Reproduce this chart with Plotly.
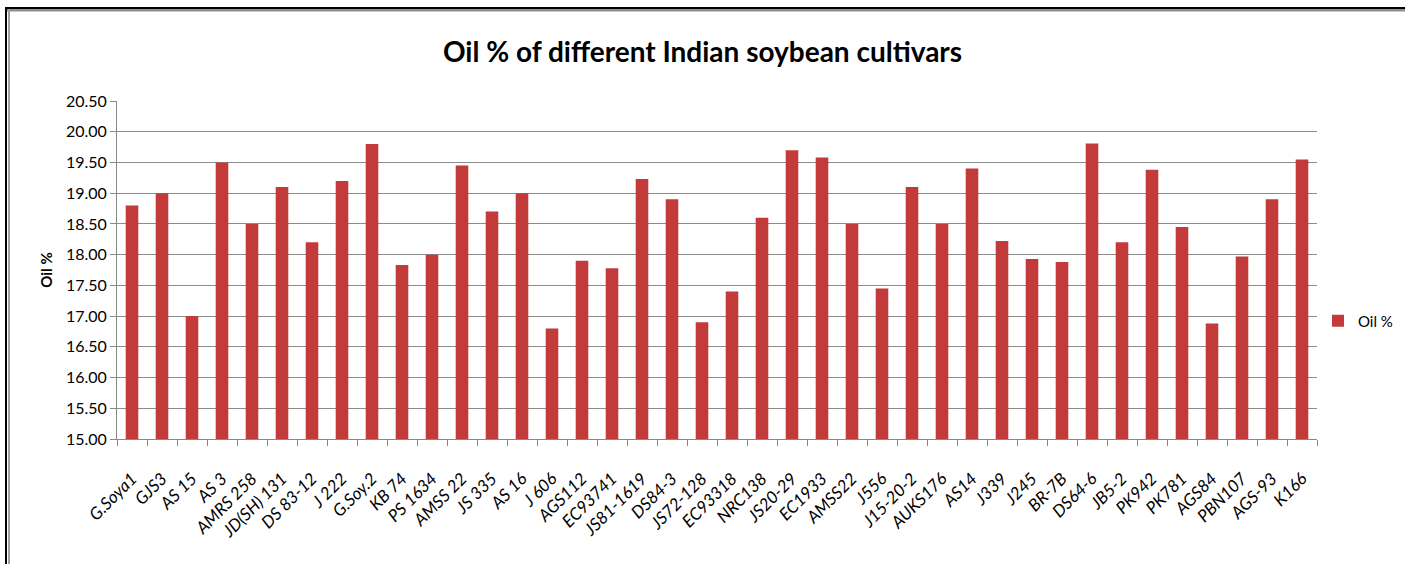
import plotly.graph_objects as go

cultivars = ["G.Soya1", "GJS3", "AS 15", "AS 3", "AMRS 258", "JD(SH) 131", "DS 83-12", "J 222",
             "G.Soy.2", "KB 74", "PS 1634", "AMSS 22", "JS 335", "AS 16", "J 606", "AGS112",
             "EC93741", "JS81-1619", "DS84-3", "JS72-128", "EC93318", "NRC138", "JS20-29",
             "EC1933", "AMSS22", "J556", "J15-20-2", "AUKS176", "AS14", "J339", "J245", "BR-7B",
             "DS64-6", "JB5-2", "PK942", "PK781", "AGS84", "PBN107", "AGS-93", "K166"]
oil_pct = [18.80, 19.00, 17.00, 19.50, 18.50, 19.10, 18.20, 19.20,
           19.80, 17.83, 18.00, 19.45, 18.70, 19.00, 16.80, 17.90,
           17.78, 19.23, 18.90, 16.90, 17.40, 18.60, 19.70,
           19.58, 18.50, 17.45, 19.10, 18.50, 19.40, 18.22, 17.93, 17.88,
           19.81, 18.20, 19.38, 18.45, 16.88, 17.97, 18.90, 19.55]
y_ticks = [15.0, 15.5, 16.0, 16.5, 17.0, 17.5, 18.0, 18.5, 19.0, 19.5, 20.0, 20.5]

FONT = "Lato, Open Sans, sans-serif"

fig = go.Figure()
fig.add_trace(go.Bar(
    x=cultivars, y=[v - 15 for v in oil_pct], base=15, name="Oil %",
    marker=dict(color="#C23A3A", line=dict(width=0)),
))

W, H = 1405, 564
ml, mr, mt, mb = 117, 88, 101, 125
pw, ph = W - ml - mr, H - mt - mb

def px_x(p):
    return (p - ml) / pw

def px_y(p):
    return (H - mb - p) / ph

fig.update_layout(
    width=W, height=H,
    margin=dict(l=ml, r=mr, t=mt, b=mb, autoexpand=False),
    paper_bgcolor="white", plot_bgcolor="white",
    title=dict(text="<b>Oil % of different Indian soybean cultivars</b>",
               x=0.5, xanchor="center", y=1 - 52 / H, yanchor="middle",
               font=dict(family=FONT, size=28, color="black")),
    bargap=0.58,
    showlegend=True,
    legend=dict(x=px_x(1318), y=px_y(321), xanchor="left", yanchor="middle",
                font=dict(family=FONT, size=15, color="black"),
                bgcolor="rgba(0,0,0,0)", itemwidth=30),
    xaxis=dict(
        tickmode="array", tickvals=cultivars,
        ticktext=[f"<i>{c}</i>" for c in cultivars],
        tickangle=-45, tickfont=dict(family=FONT, size=17, color="black"),
        ticks="outside", tickson="boundaries", ticklen=6, tickcolor="#888888",
        ticklabelstandoff=22,
        showline=True, linecolor="#888888", linewidth=1,
        showgrid=False,
    ),
    yaxis=dict(
        range=[15, 20.5], tickvals=y_ticks, tickformat=".2f",
        tickfont=dict(family=FONT, size=16, color="black"),
        ticks="outside", ticklen=6, tickcolor="#888888",
        showline=True, linecolor="#888888", linewidth=1,
        showgrid=True, gridcolor="#8c8c8c", gridwidth=1,
        title=dict(text="<b>Oil %</b>", font=dict(family=FONT, size=15, color="black"), standoff=9),
    ),
    shapes=[
        dict(type="line", xref="paper", yref="paper", x0=px_x(6), x1=px_x(1410),
             y0=px_y(10), y1=px_y(10), line=dict(color="#909090", width=3)),
        dict(type="line", xref="paper", yref="paper", x0=px_x(9), x1=px_x(9),
             y0=px_y(8), y1=px_y(570), line=dict(color="#a0a0a0", width=2)),
        dict(type="line", xref="paper", yref="paper", x0=px_x(5), x1=px_x(1410),
             y0=px_y(8), y1=px_y(8), line=dict(color="black", width=2)),
        dict(type="line", xref="paper", yref="paper", x0=px_x(6), x1=px_x(6),
             y0=px_y(7), y1=px_y(570), line=dict(color="black", width=2)),
    ],
)

fig.write_html("out.html")
